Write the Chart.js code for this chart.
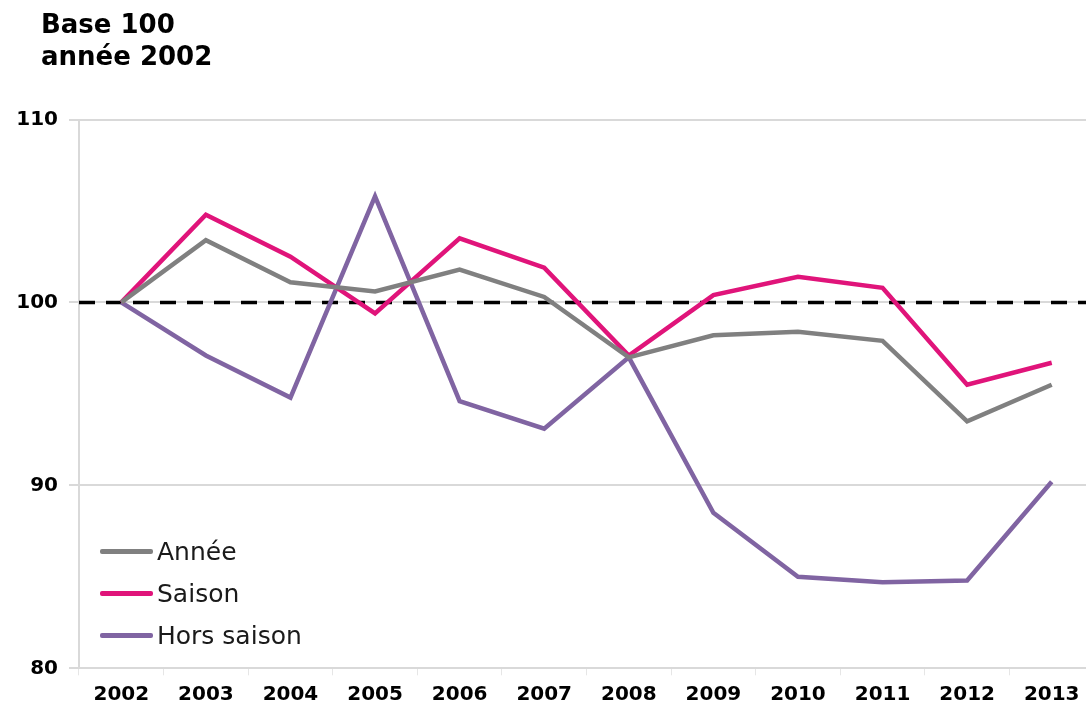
<!DOCTYPE html>
<html>
<head>
<meta charset="utf-8">
<script src="https://cdn.jsdelivr.net/npm/chart.js@4/dist/chart.umd.min.js"></script>
<style>
  html, body { margin: 0; padding: 0; background: #fff; overflow: hidden; }
  #wrap { position: relative; width: 1094px; height: 705px; }
  #title { position: absolute; left: 41px; top: 8px; font-family: "DejaVu Sans", Verdana, sans-serif; font-weight: bold; font-size: 26px; line-height: 32px; color: #000; }
  #legend { position: absolute; left: 100px; top: 530px; font-family: "DejaVu Sans", Verdana, sans-serif; font-size: 25px; color: #1a1a1a; }
  .item { display: flex; align-items: center; height: 42px; }
  .swatch { width: 53px; height: 5px; border-radius: 2px; margin-right: 4px; }
</style>
</head>
<body>
<div id="wrap">
  <canvas id="c" width="1094" height="705"></canvas>
  <div id="title">Base 100<br>année 2002</div>
  <div id="legend"></div>
</div>
<script>
const categories = ["2002","2003","2004","2005","2006","2007","2008","2009","2010","2011","2012","2013"];
const annee      = [100, 103.4, 101.1, 100.6, 101.8, 100.3, 97.0, 98.2, 98.4, 97.9, 93.5, 95.5];
const saison     = [100, 104.8, 102.5, 99.4, 103.5, 101.9, 97.1, 100.4, 101.4, 100.8, 95.5, 96.7];
const horsSaison = [100, 97.1, 94.8, 105.8, 94.6, 93.1, 97.0, 88.5, 85.0, 84.7, 84.8, 90.2];
const yTicks     = [80, 90, 100, 110];
const baseValue  = 100;

const seriesNames  = ["Année", "Saison", "Hors saison"];
const seriesColors = ["#808080", "#e0147a", "#8064a2"];
const seriesData   = [annee, saison, horsSaison];

const baseLinePlugin = {
  id: 'baseLine',
  beforeDatasetsDraw(chart) {
    const { ctx, chartArea, scales } = chart;
    const y = scales.y.getPixelForValue(baseValue);
    ctx.save();
    ctx.strokeStyle = '#000';
    ctx.lineWidth = 3.5;
    ctx.setLineDash([16, 11]);
    ctx.beginPath();
    ctx.moveTo(chartArea.left, y);
    ctx.lineTo(chartArea.right, y);
    ctx.stroke();
    ctx.restore();
  }
};

const chart = new Chart(document.getElementById('c'), {
  type: 'line',
  data: {
    labels: categories,
    datasets: seriesData.map((d, i) => ({
      label: seriesNames[i],
      data: d,
      borderColor: seriesColors[i],
      backgroundColor: seriesColors[i],
      borderWidth: 4.5,
      pointRadius: 0,
      tension: 0,
      fill: false
    }))
  },
  options: {
    responsive: false,
    animation: false,
    layout: { padding: { top: 119.5, left: 0, right: 0, bottom: 0 } },
    plugins: { legend: { display: false }, tooltip: { enabled: false } },
    scales: {
      x: {
        offset: true,
        grid: { display: true, drawOnChartArea: false, offset: true, color: '#e6e6e6', lineWidth: 1, tickLength: 7 },
        border: { display: true, color: '#d9d9d9', width: 2 },
        ticks: { color: '#000', font: { family: 'DejaVu Sans', weight: 'bold', size: 20 }, padding: 7, maxRotation: 0 },
        afterFit(s) { s.height = 705 - 668.3; }
      },
      y: {
        min: 80, max: 110,
        afterBuildTicks(s) { s.ticks = yTicks.map(v => ({ value: v })); },
        grid: { color: '#d9d9d9', lineWidth: 2, tickLength: 10 },
        border: { display: true, color: '#d9d9d9', width: 2 },
        ticks: { color: '#000', font: { family: 'DejaVu Sans', weight: 'bold', size: 20 }, padding: 11 },
        afterFit(s) { s.width = 79; }
      }
    }
  },
  plugins: [baseLinePlugin]
});

const legend = document.getElementById('legend');
chart.data.datasets.forEach(ds => {
  const row = document.createElement('div');
  row.className = 'item';
  const sw = document.createElement('span');
  sw.className = 'swatch';
  sw.style.background = ds.borderColor;
  const tx = document.createElement('span');
  tx.textContent = ds.label;
  row.appendChild(sw); row.appendChild(tx);
  legend.appendChild(row);
});
</script>
</body>
</html>
